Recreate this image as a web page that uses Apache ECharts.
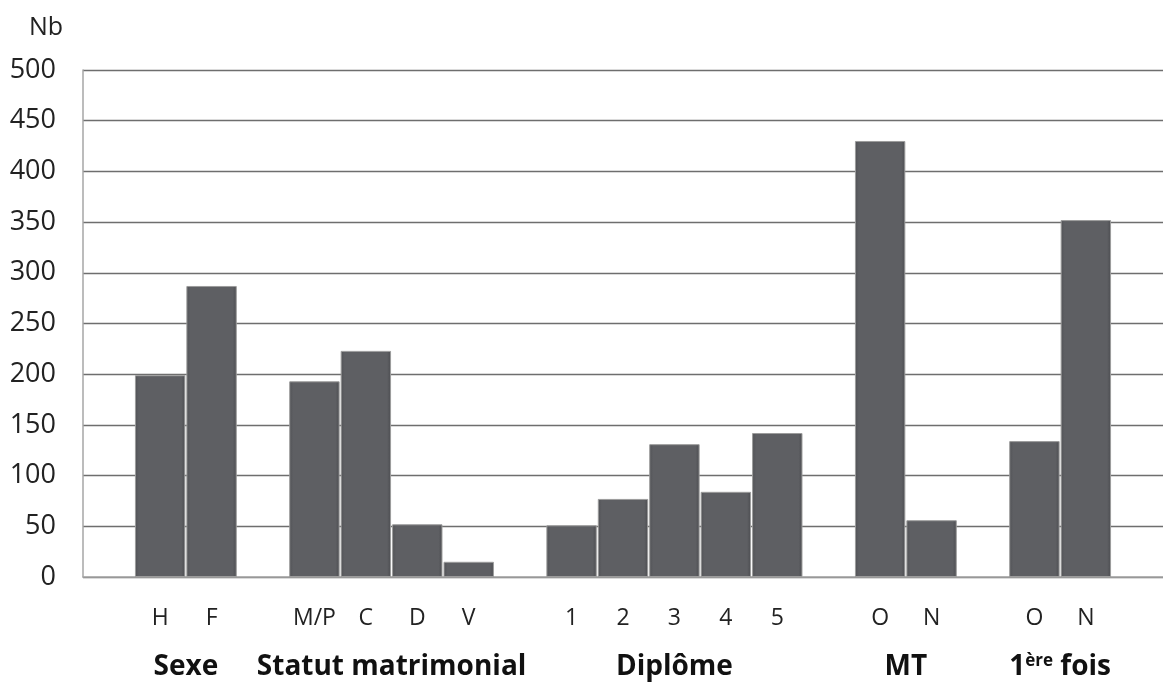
<!DOCTYPE html>
<html>
<head>
<meta charset="utf-8">
<script src="https://cdn.jsdelivr.net/npm/echarts@6/dist/echarts.min.js"></script>
<style>
html,body{margin:0;padding:0;background:#fff;}
#c{width:1163px;height:688px;}
</style>
</head>
<body>
<div id="c"></div>
<script>
// Data
var categories = ['', 'H', 'F', '', 'M/P', 'C', 'D', 'V', '', '1', '2', '3', '4', '5', '', 'O', 'N', '', 'O', 'N', ''];
var values = [null, 199, 287, null, 193, 223, 52, 15, null, 51, 77, 131, 84, 142, null, 430, 56, null, 134, 352, null];
var groupNames = ['Sexe', 'Statut matrimonial', 'Diplôme', 'MT', '1ère fois'];
var groupCenters = [1.5, 5.5, 11, 15.5, 18.5];
var yTicks = [0, 50, 100, 150, 200, 250, 300, 350, 400, 450, 500];

var chart = echarts.init(document.getElementById('c'));
var font = '"Open Sans", "Noto Sans", sans-serif';
var option = {
  animation: false,
  backgroundColor: '#ffffff',
  grid: { left: 83, right: -8, top: 70, bottom: 111, containLabel: false },
  xAxis: [
    {
      type: 'category',
      data: categories,
      axisLine: { show: true, lineStyle: { color: '#a6a6a6', width: 1.5 } },
      axisTick: { show: false },
      axisLabel: { color: '#222', fontSize: 23, fontFamily: font, margin: 30, interval: 0 }
    },
    {
      type: 'value',
      position: 'bottom',
      min: -0.5,
      max: 20.5,
      offset: 76,
      axisLine: { show: false },
      axisTick: { show: false },
      splitLine: { show: false },
      axisLabel: {
        show: true,
        customValues: groupCenters,
        margin: 0,
        fontFamily: font,
        fontSize: 28,
        fontWeight: 'bold',
        color: '#111',
        formatter: function (v) {
          for (var i = 0; i < groupCenters.length; i++) {
            if (Math.abs(groupCenters[i] - v) < 0.01) {
              var n = groupNames[i];
              if (n === '1ère fois') return '{b|1}{s|ère}{b| fois}';
              return '{b|' + n + '}';
            }
          }
          return '';
        },
        rich: {
          b: { fontFamily: font, fontSize: 28, fontWeight: 'bold', color: '#111' },
          s: { fontFamily: font, fontSize: 17, fontWeight: 'bold', color: '#111', verticalAlign: 'top', padding: [0, 0, 12, 0] }
        }
      }
    }
  ],
  yAxis: {
    type: 'value',
    min: 0,
    max: 500,
    interval: 50,
    name: 'Nb',
    nameLocation: 'end',
    nameGap: 30,
    nameTextStyle: { color: '#222', fontSize: 25, fontFamily: font, align: 'right', padding: [0, 20, 0, 0] },
    axisLine: { show: true, onZero: false, lineStyle: { color: '#a6a6a6', width: 1.5 } },
    axisTick: { show: false },
    axisLabel: { color: '#222', fontSize: 27, fontFamily: font, margin: 27,
      formatter: function (v) { return yTicks.indexOf(v) >= 0 ? String(v) : ''; } },
    splitLine: { show: true, lineStyle: { color: '#6e6e6e', width: 1.3 } }
  },
  series: [{
    type: 'bar',
    xAxisIndex: 0,
    data: values,
    barCategoryGap: '2%',
    itemStyle: {
      color: {
        type: 'linear', x: 0, y: 0, x2: 1, y2: 0,
        colorStops: [
          { offset: 0, color: '#515256' },
          { offset: 0.08, color: '#5e5f63' },
          { offset: 0.92, color: '#5e5f63' },
          { offset: 1, color: '#4c4d51' }
        ]
      },
      borderColor: '#9c9c9c',
      borderWidth: 1
    }
  }]
};
chart.setOption(option);
</script>
</body>
</html>
